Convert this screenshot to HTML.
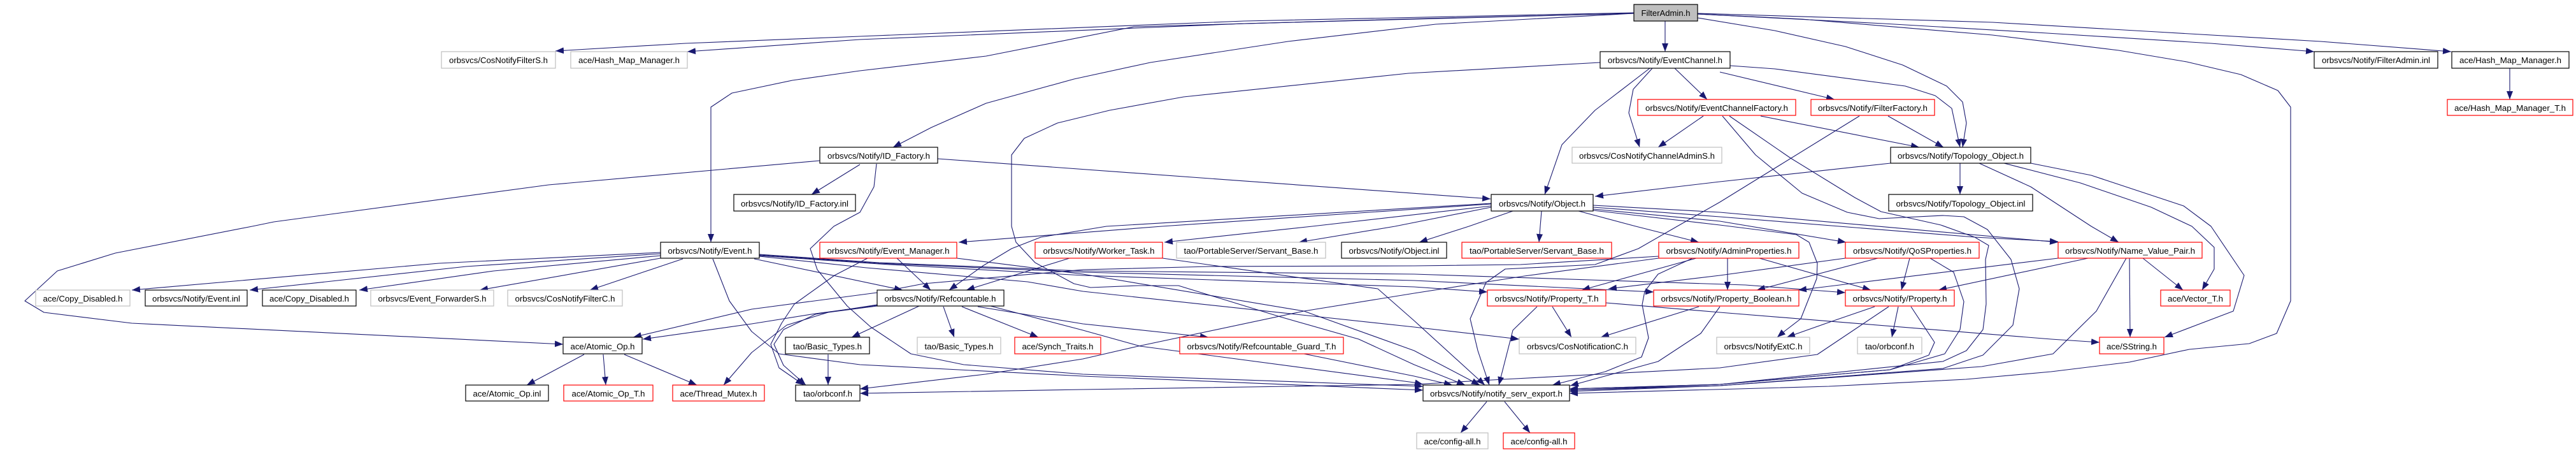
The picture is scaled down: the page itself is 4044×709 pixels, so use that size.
<!DOCTYPE html>
<html><head><meta charset="utf-8"><title>FilterAdmin.h include graph</title>
<style>html,body{margin:0;padding:0;background:#fff;width:4044px;height:709px;overflow:hidden}svg{display:block}
text{font-family:"Liberation Sans",Arial,sans-serif;font-size:13px;fill:#000;text-anchor:middle}
.e path{fill:none;stroke:#191970;stroke-width:1.1;stroke-linejoin:round;marker-end:url(#a)}
.k{fill:#fff;stroke:#000;stroke-width:1.2}.r{fill:#fff;stroke:#f00;stroke-width:1.2}.g{fill:#fff;stroke:#bfbfbf;stroke-width:1.2}</style></head>
<body>
<svg xmlns="http://www.w3.org/2000/svg" width="4044" height="709" viewBox="0 0 4044 709">
<defs><marker id="a" markerUnits="userSpaceOnUse" markerWidth="14" markerHeight="11" refX="13" refY="5.5" orient="auto"><path d="M0,0.5L13,5.5L0,10.5z" fill="#191970"/></marker></defs>
<g class="e">
<path d="M2565,20L1953,33L1350,57L1076,68L872,80"/>
<path d="M2565,21L1953,37L1350,62L1079,81"/>
<path d="M2565,21L2200,30L1780,42L1548,88L1350,111L1244,126L1149,146L1116,168L1116,380"/>
<path d="M2565,21L2254,38L2022,65L1806,98L1686,124L1548,162L1462,200L1402,231"/>
<path d="M2614,33L2614,81"/>
<path d="M2665,21L3128,35L3386,50L3643,65L3848,81"/>
<path d="M2665,22L2957,37L3214,52L3471,68L3633,81"/>
<path d="M2665,22L2829,30L3128,55L3326,79L3433,97L3518,117L3576,142L3596,168L3596,472L3574,523L3531,539L3437,548L3343,568L3220,583L3086,595L2871,606L2728,610L2464,617"/>
<path d="M2665,28L2786,48L2897,73L2987,102L3056,135L3081,160L3087,193L3081,231"/>
<path d="M2716,103L2786,108L2991,135L3038,150L3064,170L3077,231"/>
<path d="M2700,113L2880,156"/>
<path d="M2629,107L2680,156"/>
<path d="M2594,107L2564,140L2557,177L2574,231"/>
<path d="M2590,107L2504,173L2452,227L2425,305"/>
<path d="M2512,98L2211,115L1858,152L1742,173L1660,193L1608,217L1588,243L1588,355L1595,380L1625,412L1686,445L1712,451L1787,448L1850,448L2010,497L2133,532L2220,572L2300,604"/>
<path d="M2764,182L3013,231"/>
<path d="M2674,182L2603,231"/>
<path d="M2704,182L2756,243L2829,303L2900,333L2950,343L3050,338L3083,340L3120,360L3157,407L3170,453L3160,510L3113,557L3050,578L2700,605L2464,612"/>
<path d="M2715,182L2811,248L2912,310L2953,332L3047,353L3100,372L3122,385L3117,407L3118,477L3113,517L3087,550L3050,567L2700,603L2464,610"/>
<path d="M2964,182L3051,231"/>
<path d="M2919,182L2700,317L2633,355L2572,390L2504,415L2363,422L2333,443L2308,500L2320,550L2338,604"/>
<path d="M2968,256L2700,285L2504,308"/>
<path d="M3077,256L3077,305"/>
<path d="M3107,256L3188,293L3283,355L3326,380"/>
<path d="M3146,256L3266,287L3377,325L3441,355L3476,388L3476,422L3457,455"/>
<path d="M3188,256L3283,275L3428,323L3471,355L3523,432L3506,488L3398,529"/>
<path d="M2501,322L2700,333L3231,380"/>
<path d="M2501,325L2700,340L3100,372L3231,379"/>
<path d="M2501,328L2700,347L2898,380"/>
<path d="M2478,331L2568,355L2667,380"/>
<path d="M2420,331L2418,355L2416,380"/>
<path d="M2375,331L2306,355L2228,380"/>
<path d="M2341,325L2190,355L2039,380"/>
<path d="M2341,323L2060,355L1828,380"/>
<path d="M2341,320L1824,355L1505,380"/>
<path d="M2341,319L1737,355L1634,372L1588,390L1543,417L1490,455"/>
<path d="M2501,330L2700,353L2820,368L2840,380L2853,413L2852,437L2827,500L2797,523L2790,529"/>
<path d="M1408,405L1461,455"/>
<path d="M1502,405L1700,430L2047,488L2220,550L2323,604"/>
<path d="M1362,405L1310,432L1247,477L1227,507L1210,540L1223,577L1262,604"/>
<path d="M1679,405L1517,455"/>
<path d="M1825,405L2163,453L2220,503L2331,604"/>
<path d="M1037,396L689,413L207,455"/>
<path d="M1037,398L732,418L392,455"/>
<path d="M1037,401L775,425L564,455"/>
<path d="M1037,405L753,455"/>
<path d="M1072,406L926,455"/>
<path d="M1119,406L1145,472L1180,520L1223,555L1350,572L1700,590L2234,612"/>
<path d="M1184,406L1417,455"/>
<path d="M1192,399L1380,412L1700,425L2220,430L2740,447L2897,459"/>
<path d="M1192,400L1380,413L1700,427L2220,440L2596,458"/>
<path d="M1192,401L1380,414L1700,432L2220,450L2335,458"/>
<path d="M1192,402L1360,420L1613,442L1700,457L2220,513L2385,532"/>
<path d="M1472,249L2340,312"/>
<path d="M1350,258L1274,305"/>
<path d="M1287,252L861,290L430,348L396,355L181,397L90,425L39,472L69,490L207,507L884,540"/>
<path d="M1376,257L1372,293L1350,333L1309,355L1272,390L1283,423L1330,480L1367,513L1430,555L1513,572L1700,587L2234,606"/>
<path d="M1377,478L1280,493L1230,517L1215,540L1230,573L1265,604"/>
<path d="M1377,480L1300,490L1235,510L1180,553L1136,604"/>
<path d="M2604,402L2387,415L2220,417L1900,418L1700,423L1450,445L1377,459L1180,485L994,529"/>
<path d="M2604,405L2393,433L2220,460L2047,488L1787,543L1700,563L1547,587L1350,610"/>
<path d="M1481,481L1498,529"/>
<path d="M1510,481L1630,529"/>
<path d="M1535,481L1700,508L1897,529"/>
<path d="M1555,480L1700,518L1790,543L2220,600L2234,603"/>
<path d="M1443,480L1337,529"/>
<path d="M1377,479L1280,492L1180,508L1009,532"/>
<path d="M2047,555L2220,590L2280,604"/>
<path d="M917,556L827,604"/>
<path d="M947,556L951,604"/>
<path d="M980,556L1094,604"/>
<path d="M1300,556L1300,604"/>
<path d="M2334,630L2293,679"/>
<path d="M2362,630L2402,679"/>
<path d="M2663,405L2483,455"/>
<path d="M2657,405L2603,430L2582,457L2578,478L2588,530L2577,560L2520,583L2437,604"/>
<path d="M2712,405L2712,455"/>
<path d="M2762,405L2937,455"/>
<path d="M2413,481L2375,518L2353,604"/>
<path d="M2437,481L2467,529"/>
<path d="M2521,475L2700,490L3220,532L3296,537"/>
<path d="M2667,481L2513,529"/>
<path d="M2700,481L2670,523L2603,567L2465,605"/>
<path d="M2897,405L2700,432L2525,453"/>
<path d="M2948,405L2758,455"/>
<path d="M2998,405L2985,455"/>
<path d="M3030,405L3067,427L3083,473L3077,517L3053,555L2967,580L2700,603L2464,612"/>
<path d="M3231,405L2823,455"/>
<path d="M3278,405L3043,455"/>
<path d="M3343,405L3344,529"/>
<path d="M3364,405L3427,455"/>
<path d="M3338,405L3291,488L3223,555L3111,575L2700,605L2464,614"/>
<path d="M2943,481L2873,505L2805,529"/>
<path d="M2980,481L2970,529"/>
<path d="M3000,481L3037,537L3028,557L2967,580L2700,603L2464,610"/>
<path d="M2965,481L2853,556L2700,577L2360,595L2220,603L1700,611L1350,617"/>
<path d="M3940,107L3940,156"/>
</g>
<g>
<rect class="k" x="2565" y="7" width="100" height="26" style="fill:#bfbfbf"/><text x="2615" y="25" textLength="77" lengthAdjust="spacingAndGlyphs">FilterAdmin.h</text>
<rect class="g" x="693" y="81" width="179" height="26"/><text x="782.5" y="99" textLength="155" lengthAdjust="spacingAndGlyphs">orbsvcs/CosNotifyFilterS.h</text>
<rect class="g" x="896" y="81" width="183" height="26"/><text x="987.5" y="99" textLength="159" lengthAdjust="spacingAndGlyphs">ace/Hash_Map_Manager.h</text>
<rect class="k" x="2512" y="81" width="204" height="26"/><text x="2614" y="99" textLength="180" lengthAdjust="spacingAndGlyphs">orbsvcs/Notify/EventChannel.h</text>
<rect class="k" x="3633" y="81" width="194" height="26"/><text x="3730" y="99" textLength="170" lengthAdjust="spacingAndGlyphs">orbsvcs/Notify/FilterAdmin.inl</text>
<rect class="k" x="3849" y="81" width="184" height="26"/><text x="3941" y="99" textLength="160" lengthAdjust="spacingAndGlyphs">ace/Hash_Map_Manager.h</text>
<rect class="r" x="2571" y="156" width="248" height="25"/><text x="2695" y="174" textLength="224" lengthAdjust="spacingAndGlyphs">orbsvcs/Notify/EventChannelFactory.h</text>
<rect class="r" x="2843" y="156" width="194" height="25"/><text x="2940" y="174" textLength="172" lengthAdjust="spacingAndGlyphs">orbsvcs/Notify/FilterFactory.h</text>
<rect class="r" x="3842" y="156" width="197" height="25"/><text x="3940.5" y="174" textLength="175" lengthAdjust="spacingAndGlyphs">ace/Hash_Map_Manager_T.h</text>
<rect class="k" x="1287" y="231" width="185" height="25"/><text x="1379.5" y="249" textLength="161" lengthAdjust="spacingAndGlyphs">orbsvcs/Notify/ID_Factory.h</text>
<rect class="g" x="2468" y="231" width="235" height="25"/><text x="2585.5" y="249" textLength="213" lengthAdjust="spacingAndGlyphs">orbsvcs/CosNotifyChannelAdminS.h</text>
<rect class="k" x="2968" y="231" width="220" height="25"/><text x="3078" y="249" textLength="198" lengthAdjust="spacingAndGlyphs">orbsvcs/Notify/Topology_Object.h</text>
<rect class="k" x="1152" y="305" width="191" height="26"/><text x="1247.5" y="324" textLength="169" lengthAdjust="spacingAndGlyphs">orbsvcs/Notify/ID_Factory.inl</text>
<rect class="k" x="2341" y="305" width="160" height="26"/><text x="2421" y="324" textLength="136" lengthAdjust="spacingAndGlyphs">orbsvcs/Notify/Object.h</text>
<rect class="k" x="2965" y="305" width="226" height="26"/><text x="3078" y="324" textLength="203" lengthAdjust="spacingAndGlyphs">orbsvcs/Notify/Topology_Object.inl</text>
<rect class="k" x="1037" y="380" width="155" height="25"/><text x="1114.5" y="398" textLength="132" lengthAdjust="spacingAndGlyphs">orbsvcs/Notify/Event.h</text>
<rect class="r" x="1287" y="380" width="215" height="25"/><text x="1394.5" y="398" textLength="192" lengthAdjust="spacingAndGlyphs">orbsvcs/Notify/Event_Manager.h</text>
<rect class="r" x="1625" y="380" width="200" height="25"/><text x="1725" y="398" textLength="175" lengthAdjust="spacingAndGlyphs">orbsvcs/Notify/Worker_Task.h</text>
<rect class="g" x="1847" y="380" width="234" height="25"/><text x="1964" y="398" textLength="211" lengthAdjust="spacingAndGlyphs">tao/PortableServer/Servant_Base.h</text>
<rect class="k" x="2106" y="380" width="165" height="25"/><text x="2188.5" y="398" textLength="142" lengthAdjust="spacingAndGlyphs">orbsvcs/Notify/Object.inl</text>
<rect class="r" x="2295" y="380" width="235" height="25"/><text x="2412.5" y="398" textLength="211" lengthAdjust="spacingAndGlyphs">tao/PortableServer/Servant_Base.h</text>
<rect class="r" x="2604" y="380" width="220" height="25"/><text x="2714" y="398" textLength="197" lengthAdjust="spacingAndGlyphs">orbsvcs/Notify/AdminProperties.h</text>
<rect class="r" x="2897" y="380" width="210" height="25"/><text x="3002" y="398" textLength="186" lengthAdjust="spacingAndGlyphs">orbsvcs/Notify/QoSProperties.h</text>
<rect class="r" x="3231" y="380" width="226" height="25"/><text x="3344" y="398" textLength="204" lengthAdjust="spacingAndGlyphs">orbsvcs/Notify/Name_Value_Pair.h</text>
<rect class="g" x="56" y="455" width="148" height="25"/><text x="130" y="473" textLength="125" lengthAdjust="spacingAndGlyphs">ace/Copy_Disabled.h</text>
<rect class="k" x="228" y="455" width="160" height="25"/><text x="308" y="473" textLength="138" lengthAdjust="spacingAndGlyphs">orbsvcs/Notify/Event.inl</text>
<rect class="k" x="412" y="455" width="147" height="25"/><text x="485.5" y="473" textLength="125" lengthAdjust="spacingAndGlyphs">ace/Copy_Disabled.h</text>
<rect class="g" x="582" y="455" width="193" height="25"/><text x="678.5" y="473" textLength="170" lengthAdjust="spacingAndGlyphs">orbsvcs/Event_ForwarderS.h</text>
<rect class="g" x="797" y="455" width="180" height="25"/><text x="887" y="473" textLength="157" lengthAdjust="spacingAndGlyphs">orbsvcs/CosNotifyFilterC.h</text>
<rect class="k" x="1377" y="455" width="199" height="25"/><text x="1476" y="473" textLength="175" lengthAdjust="spacingAndGlyphs">orbsvcs/Notify/Refcountable.h</text>
<rect class="r" x="2335" y="455" width="186" height="25"/><text x="2428" y="473" textLength="163" lengthAdjust="spacingAndGlyphs">orbsvcs/Notify/Property_T.h</text>
<rect class="r" x="2596" y="455" width="228" height="25"/><text x="2710" y="473" textLength="205" lengthAdjust="spacingAndGlyphs">orbsvcs/Notify/Property_Boolean.h</text>
<rect class="r" x="2897" y="455" width="171" height="25"/><text x="2982.5" y="473" textLength="148" lengthAdjust="spacingAndGlyphs">orbsvcs/Notify/Property.h</text>
<rect class="r" x="3392" y="455" width="109" height="25"/><text x="3446.5" y="473" textLength="87" lengthAdjust="spacingAndGlyphs">ace/Vector_T.h</text>
<rect class="k" x="884" y="529" width="124" height="26"/><text x="946" y="548" textLength="101" lengthAdjust="spacingAndGlyphs">ace/Atomic_Op.h</text>
<rect class="k" x="1233" y="529" width="132" height="26"/><text x="1299" y="548" textLength="108" lengthAdjust="spacingAndGlyphs">tao/Basic_Types.h</text>
<rect class="g" x="1440" y="529" width="131" height="26"/><text x="1505.5" y="548" textLength="108" lengthAdjust="spacingAndGlyphs">tao/Basic_Types.h</text>
<rect class="r" x="1593" y="529" width="135" height="26"/><text x="1660.5" y="548" textLength="112" lengthAdjust="spacingAndGlyphs">ace/Synch_Traits.h</text>
<rect class="r" x="1852" y="529" width="257" height="26"/><text x="1980.5" y="548" textLength="234" lengthAdjust="spacingAndGlyphs">orbsvcs/Notify/Refcountable_Guard_T.h</text>
<rect class="g" x="2385" y="529" width="183" height="26"/><text x="2476.5" y="548" textLength="159" lengthAdjust="spacingAndGlyphs">orbsvcs/CosNotificationC.h</text>
<rect class="g" x="2695" y="529" width="146" height="26"/><text x="2768" y="548" textLength="123" lengthAdjust="spacingAndGlyphs">orbsvcs/NotifyExtC.h</text>
<rect class="g" x="2916" y="529" width="101" height="26"/><text x="2966.5" y="548" textLength="77" lengthAdjust="spacingAndGlyphs">tao/orbconf.h</text>
<rect class="r" x="3296" y="529" width="101" height="26"/><text x="3346.5" y="548" textLength="79" lengthAdjust="spacingAndGlyphs">ace/SString.h</text>
<rect class="k" x="731" y="604" width="130" height="25"/><text x="796" y="622" textLength="107" lengthAdjust="spacingAndGlyphs">ace/Atomic_Op.inl</text>
<rect class="r" x="885" y="604" width="140" height="25"/><text x="955" y="622" textLength="115" lengthAdjust="spacingAndGlyphs">ace/Atomic_Op_T.h</text>
<rect class="r" x="1056" y="604" width="144" height="25"/><text x="1128" y="622" textLength="121" lengthAdjust="spacingAndGlyphs">ace/Thread_Mutex.h</text>
<rect class="k" x="1249" y="604" width="101" height="25"/><text x="1299.5" y="622" textLength="77" lengthAdjust="spacingAndGlyphs">tao/orbconf.h</text>
<rect class="k" x="2234" y="604" width="230" height="25"/><text x="2349" y="622" textLength="208" lengthAdjust="spacingAndGlyphs">orbsvcs/Notify/notify_serv_export.h</text>
<rect class="g" x="2224" y="679" width="112" height="25"/><text x="2280" y="697" textLength="89" lengthAdjust="spacingAndGlyphs">ace/config-all.h</text>
<rect class="r" x="2360" y="679" width="112" height="25"/><text x="2416" y="697" textLength="89" lengthAdjust="spacingAndGlyphs">ace/config-all.h</text>
</g>
</svg>
</body></html>
